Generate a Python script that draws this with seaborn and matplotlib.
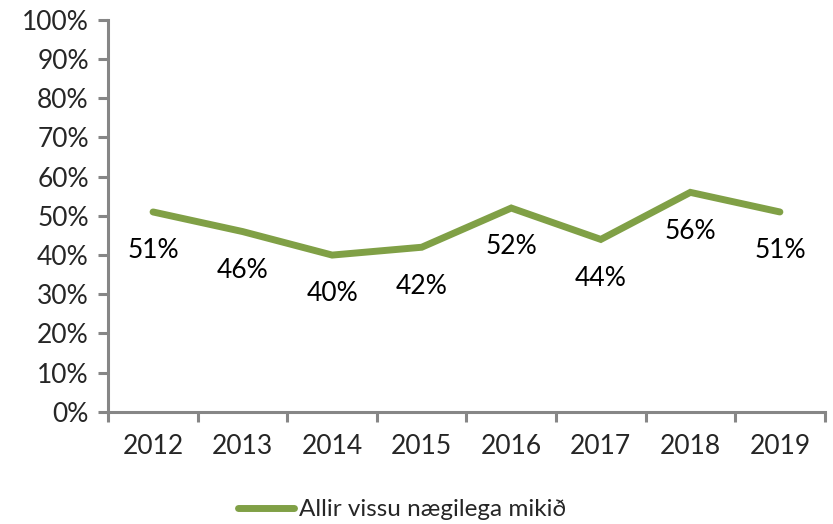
import pandas as pd
import numpy as np
import matplotlib
matplotlib.use("Agg")
import matplotlib.pyplot as plt
import seaborn as sns
from matplotlib.ticker import FixedLocator, PercentFormatter

# data
years = ["2012", "2013", "2014", "2015", "2016", "2017", "2018", "2019"]
values = [51, 46, 40, 42, 52, 44, 56, 51]
series_name = "Allir vissu nægilega mikið"

df = pd.DataFrame({"pos": np.arange(len(years)), "value": values, "series": series_name})

sns.set_style("white")
plt.rcParams["font.family"] = ["Lato", "DejaVu Sans"]

green = "#80A046"
axis_grey = "#868686"

fig = plt.figure(figsize=(8.33, 5.24), dpi=100)
ax = fig.add_axes([0.130, 0.214, 0.860, 0.748])

sns.lineplot(data=df, x="pos", y="value", hue="series", palette=[green],
             linewidth=5, solid_capstyle="round", solid_joinstyle="miter", ax=ax)

# value labels under each point
for x, v in zip(df["pos"], df["value"]):
    ax.annotate(f"{v}%", (x, v), xytext=(0, -19), textcoords="offset points",
                ha="center", va="top", fontsize=19, color="black")

ax.set_xlim(-0.5, len(years) - 0.5)
ax.set_ylim(0, 100)
ax.set_yticks(np.arange(0, 101, 10))
ax.yaxis.set_major_formatter(PercentFormatter(decimals=0))
ax.set_xticks(df["pos"])
ax.set_xticklabels(years)
ax.xaxis.set_minor_locator(FixedLocator(np.arange(-0.5, len(years), 1)))
ax.tick_params(axis="x", which="major", bottom=False, length=0, labelsize=19, pad=16)
ax.tick_params(axis="x", which="minor", bottom=True, length=7, width=2.2,
               color=axis_grey, direction="out")
ax.tick_params(axis="y", left=True, length=7, width=2.2, color=axis_grey,
               direction="out", labelsize=19, pad=7)

for side in ["top", "right"]:
    ax.spines[side].set_visible(False)
for side in ["left", "bottom"]:
    ax.spines[side].set_color(axis_grey)
    ax.spines[side].set_linewidth(2.2)

ax.set_xlabel("")
ax.set_ylabel("")

leg = ax.legend(loc="center", bbox_to_anchor=(0.41, -0.25), frameon=False,
                fontsize=17.5, handlelength=2.3, handletextpad=0.2)
for line in leg.get_lines():
    line.set_linewidth(5)
    line.set_solid_capstyle("round")

fig.savefig("out.png", dpi=100)
